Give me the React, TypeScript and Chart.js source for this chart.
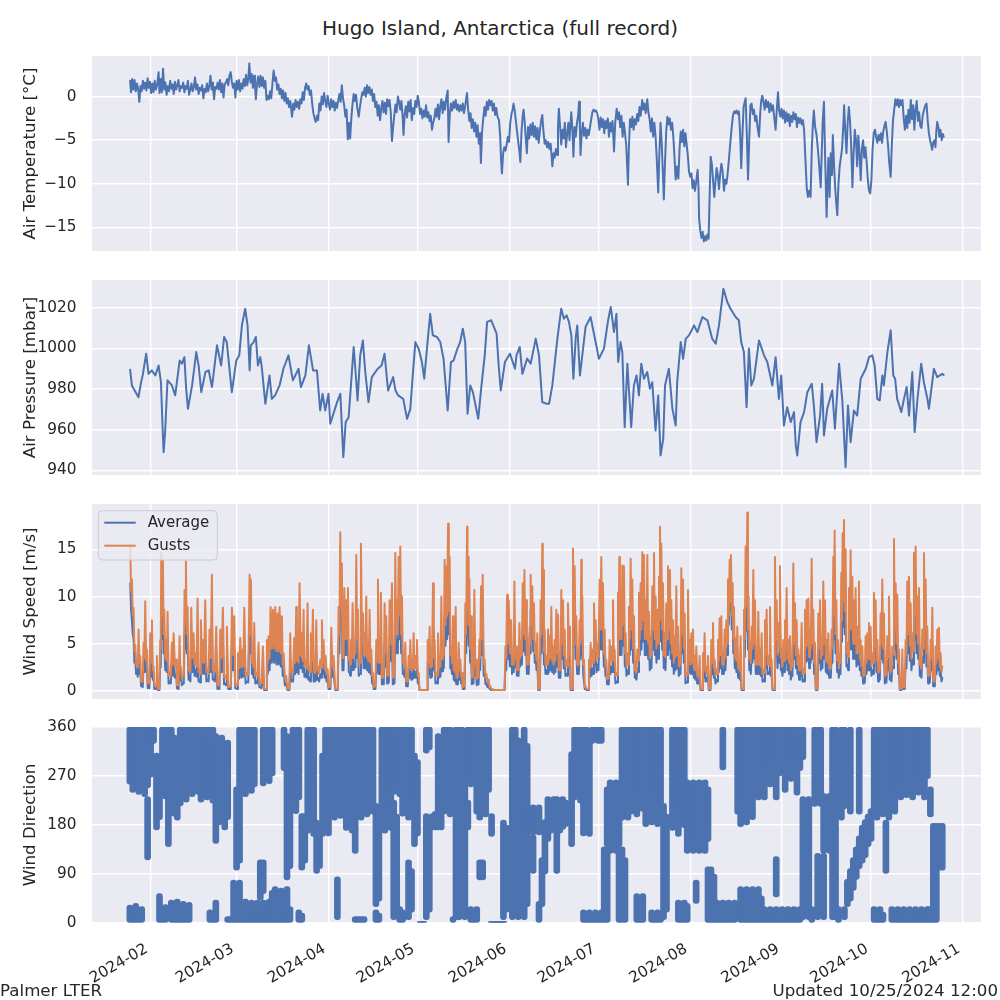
import React, { useEffect, useRef } from "react";
import { Chart, registerables } from "chart.js";

Chart.register(...registerables);

const FONT = "'DejaVu Sans', 'Liberation Sans', sans-serif";
const TEXT = "#262626";
const BG = "#EAEAF2";
const BLUE = "#4C72B0";
const ORANGE = "#DD8452";

// x axis: day of year 2024 (Jan 1 = 0)
const monthTickDays = [31, 60, 91, 121, 152, 182, 213, 244, 274, 305];
const monthTickLabels = ["2024-02", "2024-03", "2024-04", "2024-05", "2024-06", "2024-07", "2024-08", "2024-09", "2024-10", "2024-11"];
const X_MIN = 11.24;
const X_MAX = 311.07;

const tempTicks = [-15, -10, -5, 0];
const pressTicks = [940, 960, 980, 1000, 1020];
const speedTicks = [0, 5, 10, 15];
const dirTicks = [0, 90, 180, 270, 360];

const titleText = "Hugo Island, Antarctica (full record)";
const footerLeft = "Palmer LTER";
const footerRight = "Updated 10/25/2024 12:00";

// [day of year, air temperature °C]
const tempSeries: [number, number][] = [
  [24.1,1.8],[24.4,0.5],[24.8,2.0],[25.2,0.8],[25.6,1.9],[26.0,0.6],[26.4,1.5],[26.8,0.9],[27.2,-0.6],[27.6,1.2],[28.0,0.6],[28.4,1.8],[28.8,0.9],[29.2,1.6],[29.6,0.7],[30.0,2.1],[30.4,1.0],[30.8,1.7],
  [31.2,0.4],[31.6,1.5],[32.0,0.5],[32.4,1.8],[32.8,0.8],[33.2,1.3],[33.7,2.8],[34.0,0.4],[34.4,2.0],[34.8,0.5],[35.2,3.2],[35.6,0.8],[36.0,1.6],[36.4,0.2],[36.8,1.2],[37.2,0.6],[37.6,1.8],[38.0,0.9],
  [38.4,1.4],[38.8,0.3],[39.2,1.7],[39.6,0.8],[40.0,1.3],[40.4,1.9],[40.8,0.6],[41.2,1.2],[41.6,1.0],[42.0,1.6],[42.4,0.5],[42.8,1.2],[43.2,0.9],[43.6,1.8],[44.0,0.2],[44.4,0.8],[44.8,1.5],[45.2,0.6],
  [45.6,1.1],[46.0,2.2],[46.4,0.8],[46.8,1.4],[47.2,0.3],[47.6,1.0],[48.0,0.7],[48.4,1.3],[48.8,-0.2],[49.2,0.9],[49.6,0.5],[50.0,1.5],[50.4,0.6],[50.8,1.2],[51.2,2.4],[51.6,0.8],[52.0,1.6],[52.4,-0.3],
  [52.8,1.1],[53.2,0.9],[53.6,1.6],[54.0,0.8],[54.4,1.9],[54.8,0.5],[55.2,1.5],[55.6,-0.1],[56.0,1.4],[56.4,1.6],[56.8,2.0],[57.2,1.3],[57.6,2.4],[58.0,2.8],[58.4,1.7],[58.8,1.0],[59.2,1.5],[59.6,-0.1],
  [60.0,1.8],[60.4,0.8],[60.8,1.9],[61.2,0.6],[61.6,1.5],[62.0,0.9],[62.4,2.0],[62.8,1.2],[63.2,2.5],[63.6,1.3],[64.0,2.2],[64.3,3.8],[64.7,1.6],[65.1,2.6],[65.5,1.0],[65.9,2.4],[66.2,1.4],[66.5,-0.3],
  [66.9,1.5],[67.3,2.3],[67.7,1.1],[68.1,2.4],[68.5,1.2],[68.9,2.2],[69.3,1.0],[69.7,1.8],[70.1,-0.4],[70.5,0.1],[70.9,-0.3],[71.3,0.6],[71.7,-0.2],[72.1,1.5],[72.5,3.0],[72.9,1.8],[73.3,2.2],[73.7,0.8],
  [74.1,1.4],[74.5,0.3],[74.9,0.9],[75.3,-0.2],[75.7,0.7],[76.1,-0.5],[76.5,0.4],[76.9,-0.8],[77.3,-0.2],[77.7,-1.2],[78.1,-0.5],[78.7,-2.3],[79.1,-0.8],[79.5,-1.5],[79.9,-0.4],[80.3,-1.2],[80.7,-0.6],[81.1,-1.4],
  [81.5,-0.3],[81.9,-0.8],[82.3,0.5],[82.7,-0.4],[83.1,1.0],[83.5,1.5],[83.9,0.8],[84.3,1.2],[84.7,0.2],[85.1,0.7],[85.5,-0.8],[85.9,-1.9],[86.3,-2.5],[86.7,-2.9],[87.1,-2.2],[87.5,-2.7],[87.9,-0.8],[88.3,-1.6],
  [88.7,0.0],[89.1,-0.9],[89.5,0.4],[89.9,-0.5],[90.3,-1.2],[90.7,0.1],[91.1,-0.8],[91.5,-1.5],[91.9,-0.3],[92.3,-1.2],[92.7,-0.5],[93.1,-1.6],[93.5,-0.7],[93.9,-1.3],[94.3,-0.4],[94.7,0.3],[95.1,-0.6],[95.5,1.3],
  [95.9,-0.2],[96.3,-1.0],[96.7,-2.3],[97.1,-1.5],[97.5,-4.9],[97.9,-3.0],[98.3,-4.8],[98.7,-2.5],[99.1,-0.9],[99.5,0.3],[99.9,-0.5],[100.3,0.2],[100.7,-1.3],[101.2,-2.3],[101.6,-1.2],[102.0,-0.3],[102.4,0.5],[102.8,0.2],
  [103.2,1.0],[103.6,0.0],[104.0,1.3],[104.4,0.4],[104.8,1.1],[105.2,0.2],[105.6,0.8],[106.0,-0.5],[106.4,0.3],[106.8,-1.2],[107.2,-0.6],[107.6,-2.2],[108.0,-1.0],[108.4,-2.7],[108.8,-1.4],[109.2,-0.5],[109.6,-1.8],[110.0,-0.7],
  [110.4,-2.0],[110.8,-0.3],[111.2,-1.1],[111.6,-0.4],[112.0,-1.8],[112.4,-5.1],[112.8,-3.5],[113.2,-2.1],[113.6,-0.9],[114.0,-1.8],[114.4,0.0],[114.8,-0.6],[115.2,-1.5],[115.6,-0.5],[116.0,-2.3],[116.3,-4.4],[116.7,-2.0],[117.1,-1.1],
  [117.5,-2.4],[117.9,-0.6],[118.3,-1.7],[118.7,-0.4],[119.1,-2.7],[119.5,-1.3],[119.9,-2.0],[120.3,-0.5],[120.7,-1.2],[121.1,0.1],[121.5,-0.7],[121.9,-2.0],[122.3,-1.4],[122.7,-2.5],[123.1,-1.6],[123.5,-2.3],[123.9,-1.0],[124.3,-2.4],
  [124.7,-1.8],[125.1,-2.8],[125.5,-2.2],[125.9,-3.8],[126.3,-3.0],[126.7,-2.5],[127.1,-1.4],[127.5,-2.3],[127.9,-0.9],[128.3,-2.6],[128.7,-1.1],[129.1,-0.3],[129.5,-1.9],[129.9,-0.6],[130.3,-1.5],[130.7,-0.2],[131.2,0.7],[131.5,-5.2],
  [131.9,-2.0],[132.3,-0.8],[132.7,-1.6],[133.1,-0.6],[133.5,-1.3],[133.9,-0.4],[134.3,-1.5],[134.7,-0.9],[135.1,-1.7],[135.5,-1.0],[135.9,-1.6],[136.3,-0.8],[136.7,-1.9],[137.1,-1.1],[137.7,0.4],[138.1,-1.5],[138.5,-2.8],[138.9,-1.9],
  [139.3,-3.6],[139.7,-2.6],[140.1,-4.0],[140.5,-3.0],[140.9,-4.6],[141.3,-3.3],[141.7,-5.4],[142.1,-4.2],[142.4,-7.6],[142.8,-4.0],[143.2,-2.5],[143.6,-1.2],[144.0,-2.2],[144.4,-0.6],[144.8,-1.5],[145.2,-0.4],[145.6,-1.0],[146.0,-0.5],
  [146.4,-1.6],[146.8,-0.8],[147.2,-2.1],[147.6,-1.3],[148.0,-2.3],[148.5,-2.7],[148.9,-4.5],[149.2,-7.2],[149.5,-8.8],[149.9,-6.5],[150.3,-5.8],[150.7,-6.2],[151.1,-5.5],[151.5,-4.6],[151.9,-5.2],[152.3,-3.0],[152.7,-2.0],[153.1,-1.5],
  [153.4,-0.8],[153.8,-1.6],[154.2,-2.8],[154.6,-4.0],[155.0,-5.2],[155.4,-6.3],[155.7,-7.5],[156.1,-4.0],[156.5,-2.2],[156.8,-1.5],[157.2,-3.0],[157.5,-4.6],[157.9,-6.5],[158.3,-3.5],[158.7,-4.8],[159.1,-3.2],[159.5,-4.4],[159.9,-3.0],
  [160.3,-4.6],[160.7,-3.4],[161.1,-4.9],[161.5,-3.6],[161.9,-5.3],[162.3,-3.9],[162.7,-2.8],[163.1,-2.1],[163.5,-4.0],[163.9,-5.4],[164.3,-5.0],[164.7,-5.8],[165.1,-5.2],[165.5,-6.0],[165.9,-5.4],[166.2,-6.6],[166.5,-8.0],[166.9,-6.5],
  [167.3,-7.0],[167.7,-6.0],[168.1,-6.7],[168.4,-3.5],[168.7,-1.4],[169.1,-3.4],[169.5,-5.5],[169.9,-3.8],[170.3,-4.8],[170.7,-3.0],[171.1,-5.8],[171.5,-4.2],[171.9,-3.0],[172.3,-5.0],[172.6,-3.2],[172.9,-1.8],[173.3,-4.0],[173.6,-6.9],
  [174.0,-3.5],[174.4,-4.6],[174.8,-3.0],[175.2,-2.2],[175.5,-0.6],[175.8,-3.8],[176.0,-6.7],[176.4,-4.2],[176.8,-3.0],[177.2,-4.5],[177.6,-3.6],[178.0,-4.8],[178.4,-3.8],[178.8,-4.4],[179.2,-3.5],[179.6,-2.6],[180.0,-1.8],[180.4,-1.5],
  [180.8,-1.7],[181.2,-1.6],[181.6,-1.9],[182.0,-2.5],[182.4,-3.8],[182.8,-2.4],[183.2,-3.5],[183.6,-2.6],[184.0,-4.2],[184.4,-2.8],[184.8,-3.6],[185.2,-2.5],[185.6,-4.6],[186.0,-3.0],[186.4,-4.0],[186.8,-2.8],[187.3,-6.3],[187.7,-3.0],
  [188.2,-1.4],[188.6,-2.6],[189.0,-1.8],[189.4,-3.5],[189.8,-2.2],[190.2,-4.6],[190.6,-3.0],[191.0,-4.2],[191.4,-5.5],[191.8,-8.5],[192.0,-10.1],[192.3,-6.0],[192.7,-2.6],[193.1,-3.5],[193.5,-2.3],[193.9,-3.8],[194.3,-2.6],[194.7,-3.2],
  [195.1,-2.0],[195.5,-2.8],[195.9,-1.2],[196.3,-2.2],[196.8,-0.4],[197.2,-1.5],[197.6,-0.8],[198.0,-1.9],[198.5,-0.3],[198.9,-1.8],[199.3,-2.6],[199.7,-4.0],[200.1,-2.5],[200.5,-4.6],[200.9,-3.0],[201.3,-4.5],[201.7,-7.0],[202.2,-11.0],
  [202.6,-6.5],[203.0,-3.0],[203.4,-5.5],[203.8,-9.0],[204.1,-11.8],[204.5,-7.5],[204.9,-4.0],[205.3,-2.3],[205.7,-3.2],[206.1,-2.5],[206.5,-3.8],[206.9,-3.0],[207.3,-4.6],[207.7,-7.0],[208.1,-9.5],[208.6,-8.0],[209.0,-9.4],[209.4,-6.0],
  [209.8,-4.0],[210.2,-5.2],[210.6,-3.8],[211.0,-5.7],[211.4,-4.2],[211.8,-5.5],[212.2,-6.8],[212.6,-8.6],[213.0,-9.2],[213.4,-8.8],[213.8,-10.5],[214.2,-9.6],[214.6,-10.8],[215.0,-9.8],[215.5,-8.4],[215.8,-10.5],[216.0,-14.0],[216.4,-15.4],
  [216.8,-16.2],[217.2,-15.5],[217.6,-16.6],[218.0,-16.0],[218.4,-16.5],[218.8,-15.8],[219.2,-16.3],[219.5,-12.0],[219.9,-6.9],[220.3,-7.8],[220.7,-9.6],[221.1,-11.5],[221.5,-9.8],[221.9,-8.2],[222.3,-9.0],[222.7,-10.6],[223.1,-8.9],[223.5,-7.7],
  [223.9,-8.5],[224.4,-10.8],[224.8,-9.5],[225.2,-10.0],[225.5,-9.2],[225.9,-7.8],[226.3,-6.2],[226.6,-5.0],[227.0,-3.5],[227.4,-2.2],[227.8,-1.7],[228.2,-1.9],[228.6,-1.6],[229.0,-2.0],[229.4,-1.7],[229.8,-4.0],[230.2,-8.2],[230.6,-4.5],
  [231.0,-1.2],[231.4,-0.6],[231.7,-0.2],[232.1,-4.5],[232.5,-9.5],[232.9,-5.0],[233.3,-1.0],[233.7,-0.8],[234.1,-2.0],[234.5,-1.5],[234.9,-2.8],[235.3,-2.2],[235.7,-3.5],[236.2,-4.6],[236.6,-2.0],[236.9,-0.6],[237.3,0.1],[237.7,-0.6],
  [238.1,-1.5],[238.5,-0.4],[238.9,-1.2],[239.3,-0.6],[239.7,-1.8],[240.1,-0.8],[240.5,-1.6],[240.9,-1.0],[241.3,-2.3],[241.8,-3.8],[242.2,-1.5],[242.6,0.5],[243.0,-1.6],[243.4,-2.3],[243.8,-1.4],[244.2,-2.5],[244.6,-1.6],[245.0,-3.0],
  [245.4,-1.8],[245.8,-2.8],[246.2,-2.0],[246.6,-3.4],[247.0,-2.2],[247.4,-2.9],[247.8,-1.8],[248.2,-2.6],[248.6,-2.0],[249.0,-3.5],[249.4,-2.4],[249.8,-3.0],[250.2,-2.5],[250.6,-3.2],[251.0,-2.7],[251.4,-3.8],[251.9,-7.5],[252.3,-10.5],
  [252.7,-11.5],[253.1,-10.8],[253.6,-11.5],[254.0,-6.0],[254.4,-3.0],[254.7,-1.6],[255.1,-3.4],[255.6,-4.4],[256.0,-5.8],[256.4,-7.5],[257.0,-10.4],[257.4,-6.0],[257.7,-2.8],[258.1,-0.6],[258.5,-7.0],[259.0,-13.8],[259.3,-10.0],[259.6,-7.0],
  [260.0,-11.5],[260.4,-6.5],[260.8,-9.0],[261.1,-4.4],[261.5,-7.8],[261.9,-10.5],[262.2,-12.0],[262.6,-13.6],[263.0,-10.0],[263.4,-8.0],[263.8,-7.0],[264.2,-6.0],[264.6,-3.5],[264.9,-1.0],[265.3,-4.0],[265.7,-6.5],[266.1,-3.0],[266.5,-1.2],
  [266.9,-2.8],[267.3,-5.8],[267.7,-10.4],[268.1,-6.5],[268.5,-3.8],[268.9,-5.0],[269.3,-8.0],[269.7,-4.5],[270.1,-6.5],[270.5,-9.6],[270.9,-6.0],[271.3,-5.0],[271.7,-7.0],[272.1,-5.8],[272.5,-7.5],[272.9,-9.5],[273.3,-10.8],[273.7,-11.1],
  [274.1,-9.6],[274.5,-6.0],[274.9,-4.2],[275.3,-3.8],[275.7,-4.6],[276.1,-5.3],[276.5,-4.4],[276.9,-5.0],[277.3,-4.2],[277.7,-5.3],[278.1,-4.0],[278.5,-3.4],[278.9,-2.9],[279.3,-4.0],[279.7,-5.5],[280.1,-7.5],[280.6,-9.2],[281.0,-5.5],
  [281.4,-2.7],[281.8,-1.5],[282.2,-0.3],[282.6,-1.0],[283.0,-0.3],[283.4,-1.2],[283.8,-0.4],[284.2,-1.0],[284.6,-0.4],[285.0,-2.5],[285.4,-3.8],[285.8,-2.2],[286.2,-3.6],[286.6,-1.5],[287.0,-3.0],[287.4,-0.4],[287.8,-2.6],[288.2,-1.0],
  [288.6,-3.8],[289.0,-1.5],[289.4,-0.5],[289.8,-2.8],[290.2,-1.8],[290.6,-3.4],[291.0,-3.6],[291.4,-2.2],[291.8,-1.6],[292.3,-1.0],[292.7,-0.8],[293.1,-2.8],[293.5,-4.2],[293.9,-5.0],[294.3,-5.6],[294.6,-6.1],[295.0,-5.2],[295.4,-5.0],
  [295.7,-5.8],[296.0,-4.0],[296.3,-2.9],[296.7,-3.5],[297.0,-4.6],[297.4,-3.8],[297.8,-5.0],[298.2,-4.3],[298.5,-4.6],
];

// [day of year, air pressure mbar]
const pressSeries: [number, number][] = [
  [24.1,989.5],[24.7,981.8],[26.9,976],[27.8,983.4],[28.4,987.2],[29.5,997.4],[30.3,987.5],[31.4,989.2],[32.6,986.7],[33.7,991.6],[34.5,983.4],[35.1,958.9],[35.4,949],[35.9,958.9],[36.7,984.3],[38.2,981.8],
  [39.3,976.9],[40.8,994],[41.6,992.5],[42.4,995.7],[43.0,980.2],[43.6,970.3],[45.0,981.8],[46.4,998.2],[47.2,991.6],[48.1,978.5],[49.5,988.4],[50.6,989.2],[51.7,981],[53.4,1001.5],[54.8,991.6],[55.8,1005.6],
  [56.7,1003],[58.4,978.5],[59.9,994],[60.9,996.6],[61.8,1011.3],[62.9,1019.5],[63.7,1011.3],[64.4,989.2],[64.8,1001.5],[65.7,1003],[66.5,1005.6],[67.2,991.6],[68.0,995.7],[68.5,990.8],[69.7,972.8],[71.1,986.7],
  [71.9,975.2],[73.0,976.9],[74.5,981.8],[75.8,990],[77.5,996.6],[79.0,984.3],[80.9,990],[81.7,981],[83.2,986.7],[84.4,1001.5],[85.8,989.2],[87.1,989.2],[88.2,969.5],[89.0,977.7],[89.9,969.5],[91.0,977.7],
  [91.6,963],[93.9,973.6],[95.0,977.7],[96.0,946.6],[96.8,963.8],[97.8,966.2],[99.5,1000.7],[100.3,985.1],[100.8,974.4],[101.7,996.6],[102.6,1003.9],[103.4,988.4],[104.5,973.6],[105.6,985.9],[107.6,990],[108.9,991.6],
  [109.9,997.4],[111.1,979.3],[112.8,985.9],[113.6,979.3],[114.5,976.9],[116.2,975.2],[117.5,965.4],[118.6,970.3],[119.5,988.4],[120.3,1003.1],[121.4,999.9],[122.5,993.3],[123.3,985.1],[124.4,1003],[125.3,1017],[126.2,1006.4],
  [127.6,1005.6],[128.7,1003.1],[129.8,994.9],[131.2,969.5],[132.3,993.3],[133.2,994.1],[134.3,999.1],[135.4,1003.1],[136.3,1009.7],[137.1,1003.1],[137.9,967.9],[138.8,981.8],[139.7,978.5],[141.5,965.4],[142.6,981.8],[143.7,996.6],
  [144.5,1013],[145.9,1013.8],[147.7,1007.2],[148.4,991.6],[149.1,979.3],[150.5,993.3],[152.2,997.4],[153.9,990],[154.4,996.6],[155.5,1000.7],[156.4,987.5],[158.0,995],[159.2,992.5],[160.9,1004.8],[162.0,996.6],[163.1,973.6],
  [164.5,972.8],[165.4,972.8],[166.5,981.8],[168.2,1004.8],[169.5,1019.5],[170.4,1014.6],[171.3,1016.2],[172.1,1013],[172.9,1006.4],[173.6,985.1],[174.4,1005.6],[174.9,1011.3],[175.8,986.7],[176.6,996.6],[177.7,1010.5],[179.4,1015.4],
  [181.1,1003.1],[182.2,994.9],[183.9,999.9],[185.3,1013.8],[186.2,1020.3],[187.3,1008],[188.1,1017],[188.7,993.3],[189.5,1003.1],[190.1,998.2],[190.9,961.3],[191.8,992.5],[192.3,980.2],[193.1,961.3],[194.0,981.8],[194.9,986.7],
  [195.7,976.9],[196.5,992.5],[197.4,985.1],[198.5,988.4],[199.4,980.2],[200.2,983.4],[201.3,959.7],[202.2,976.9],[203.0,947.4],[203.9,955.6],[204.5,981.8],[205.8,990],[207.0,970.3],[208.1,962.1],[208.6,983.4],[209.8,1003.1],
  [210.6,994.9],[211.5,1004.8],[212.6,1006.4],[214.3,1011.3],[215.4,1008],[217.1,1015.4],[218.8,1013.8],[220.4,1004.8],[221.6,1002.3],[222.7,1011.3],[224.2,1029.3],[225.5,1022.8],[226.6,1019.5],[228.3,1015.4],[229.4,1013.8],[230.2,1003.1],
  [231.1,998.2],[232.0,971.1],[232.8,999.9],[233.6,981.8],[234.5,985.1],[236.2,1003.9],[237.9,996.6],[239.0,993.3],[240.7,981.8],[241.8,995.7],[242.9,975.2],[243.7,986.7],[244.6,962.1],[245.7,971.1],[246.9,963.8],[248.0,968.7],
  [248.6,952.3],[249.1,947.4],[250.2,963.8],[251.4,968.7],[252.5,978.5],[254.0,982.6],[254.7,971.9],[255.6,953.9],[256.8,967],[257.5,982.6],[258.1,957.2],[259.2,970.3],[260.9,979.3],[261.8,960.5],[263.2,992.5],[264.3,974.4],
  [265.4,941.6],[266.2,972],[267.1,953.9],[268.2,969.5],[269.3,967],[270.5,985.1],[272.2,990],[273.3,995.7],[274.4,996.6],[275.2,991.6],[276.1,975.2],[276.9,974.4],[277.8,986.7],[278.3,981.8],[279.5,998.2],[280.6,1008.9],
  [281.5,986.7],[282.1,985.1],[282.8,975.2],[284.2,968.7],[285.1,975.2],[286.0,981],[286.8,967],[287.9,988.4],[288.7,958.9],[289.6,974.4],[290.9,992.5],[291.8,983.4],[293.0,975.2],[293.5,970.3],[295.2,990],[296.3,985.9],
  [298.0,987.5],[298.5,987],
];

// [day of year, average m/s, gust m/s, average in the dip before the next reading, gust in that dip]
const windRows: [number, number, number, number, number][] = [
  [24.14,11.4,15.3,8.5,10.5],[24.70,7.5,11.8,6.0,8.0],[25.27,5.5,8.8,3.0,4.2],[25.83,3.5,4.9,1.8,2.8],[26.39,2.2,3.3,1.5,2.5],[26.95,4.0,6.5,1.8,3.0],[27.51,2.2,3.7,0.5,1.0],[28.08,0.6,1.2,0.4,1.0],[28.64,3.0,5.1,2.0,3.5],[29.20,5.0,9.5,2.0,3.2],
  [29.76,2.4,4.4,0.3,0.8],[30.33,0.4,0.9,0.3,0.8],[30.89,3.4,6.1,1.5,3.0],[31.45,4.2,7.5,1.2,2.2],[32.01,1.3,2.6,0.2,0.6],[32.58,0.3,0.7,0.2,0.6],[33.14,1.8,3.7,0.1,0.2],[33.70,0.1,0.2,0.1,0.2],[34.26,3.0,5.4,2.5,4.5],[34.60,8.5,14.7,5.5,8.0],
  [35.16,8.0,13.9,4.0,6.0],[35.61,5.0,8.6,2.2,3.5],[36.28,3.0,5.4,2.0,3.2],[36.73,4.6,8.4,0.8,1.6],[37.41,1.0,1.9,0.8,1.5],[38.19,2.8,5.1,1.6,2.8],[38.76,3.4,6.1,1.4,2.5],[39.66,1.8,3.3,0.3,0.6],[40.11,0.3,0.7,0.2,0.6],[40.78,3.2,5.8,1.2,2.2],
  [41.23,1.4,2.6,0.6,1.3],[41.90,0.8,1.6,0.8,1.5],[42.46,6.0,10.7,4.5,7.0],[42.91,7.8,13.7,4.0,6.0],[43.47,5.0,8.9,1.2,2.2],[44.15,1.3,2.5,1.0,2.0],[44.71,5.0,8.8,2.0,3.5],[45.50,3.4,6.1,1.6,2.8],[46.17,2.2,4.0,1.5,2.6],[46.85,5.5,9.8,1.0,2.0],
  [47.52,1.2,2.3,0.9,1.8],[47.97,4.2,7.5,1.8,3.0],[48.65,3.0,5.4,1.8,3.0],[49.43,5.4,9.6,1.0,2.0],[50.22,1.2,2.3,1.0,1.8],[50.89,3.6,6.5,2.0,3.5],[51.68,7.0,12.3,1.2,2.2],[52.24,1.3,2.6,1.0,2.0],[53.14,3.8,6.8,0.2,0.6],[53.93,0.3,0.7,0.2,0.6],
  [54.49,3.6,6.5,2.0,3.5],[55.39,5.0,8.8,0.7,1.4],[56.18,0.8,1.6,0.6,1.3],[56.74,3.8,6.8,0.2,0.4],[57.64,0.2,0.5,0.2,0.5],[58.43,5.0,8.8,2.2,3.8],[59.21,4.4,7.9,0.3,0.6],[59.89,0.3,0.7,0.2,0.6],[60.45,2.2,4.0,1.3,2.4],[61.24,3.1,5.6,1.4,2.5],
  [62.02,2.4,4.4,1.5,2.6],[62.59,5.0,8.8,0.8,1.6],[63.49,1.0,1.9,0.9,1.7],[64.39,7.0,12.3,4.0,6.0],[64.84,6.8,11.8,1.8,3.0],[65.51,2.0,3.7,1.4,2.5],[65.96,4.0,7.2,0.8,1.6],[66.64,1.0,1.9,0.8,1.6],[67.42,2.8,5.1,0.4,0.8],[67.99,0.4,0.9,0.3,0.8],
  [68.89,2.6,4.7,0.1,0.2],[69.67,0.1,0.2,0.1,0.2],[70.24,3.0,5.4,1.8,3.0],[70.80,3.2,5.8,2.2,3.5],[71.47,5.0,8.9,3.0,4.5],[72.26,5.0,8.6,3.0,4.5],[73.05,5.2,8.9,2.8,4.2],[73.83,4.8,8.2,2.8,4.2],[74.51,5.0,8.9,2.6,4.0],[75.29,4.4,7.9,1.6,2.8],
  [75.85,2.2,4.0,0.6,1.3],[76.75,0.8,1.6,0.1,0.2],[77.54,0.1,0.2,0.1,0.2],[78.10,3.4,6.1,1.0,2.0],[78.66,1.2,2.3,1.0,1.9],[79.45,3.1,5.6,1.8,3.0],[80.12,5.0,8.9,2.0,3.2],[80.57,2.6,4.7,1.8,3.0],[81.25,6.5,11.4,2.4,3.8],[82.03,3.4,6.1,2.0,3.2],
  [82.60,4.8,8.6,1.5,2.6],[83.16,1.8,3.3,1.4,2.5],[83.95,5.2,9.3,1.2,2.2],[84.51,1.4,2.6,1.0,2.0],[85.07,3.4,6.1,2.0,3.2],[85.75,4.8,8.6,1.0,2.0],[86.20,1.2,2.3,1.0,1.9],[86.87,4.2,7.5,1.2,2.2],[87.43,1.4,2.6,1.0,1.8],[88.22,1.8,3.3,1.4,2.4],
  [88.78,4.2,7.5,1.8,3.0],[89.35,3.0,5.4,1.4,2.4],[90.02,2.0,3.7,1.0,1.8],[90.70,1.2,2.3,0.2,0.4],[91.37,0.2,0.5,0.2,0.5],[91.93,3.7,6.7,1.5,2.6],[92.72,2.0,3.7,0.1,0.2],[93.84,0.1,0.2,0.1,0.2],[94.40,5.0,8.9,4.0,6.0],[94.97,10.0,16.8,6.5,9.0],
  [95.53,8.0,13.5,2.2,3.5],[95.87,2.4,4.0,2.2,3.5],[96.32,6.2,10.9,3.8,5.5],[96.99,5.5,9.6,3.8,5.5],[97.55,6.2,10.9,2.0,3.2],[98.12,2.0,3.7,1.6,2.8],[98.57,3.0,5.4,2.2,3.5],[99.13,5.2,9.3,2.2,3.5],[99.80,2.8,5.1,2.5,4.0],[100.37,8.5,14.4,3.5,5.5],
  [100.93,4.8,8.6,1.6,2.8],[101.49,1.8,3.3,1.8,3.0],[101.94,9.2,15.6,4.0,6.0],[102.62,4.6,8.2,2.4,3.8],[103.07,3.4,6.1,2.4,3.8],[103.74,5.6,10.0,2.2,3.5],[104.30,2.8,5.1,2.0,3.2],[104.87,4.8,8.6,1.8,3.0],[105.43,2.4,4.4,0.8,1.6],[105.99,1.0,1.9,0.2,0.4],
  [106.55,0.2,0.5,0.2,0.5],[107.12,3.0,5.4,2.0,3.5],[107.68,6.8,11.8,1.8,3.0],[108.02,2.0,3.7,1.8,3.0],[108.69,5.8,10.4,0.7,1.4],[109.37,0.8,1.6,0.7,1.4],[109.93,5.2,9.3,2.6,4.0],[110.49,4.4,7.9,0.8,1.6],[111.05,1.0,1.9,0.9,1.7],[111.62,5.4,9.6,3.2,5.0],
  [112.41,6.4,11.4,0.7,1.4],[112.97,0.8,1.6,0.8,1.5],[113.53,8.6,14.6,4.0,6.0],[114.10,5.5,9.6,4.0,6.0],[114.66,8.4,14.2,5.5,8.0],[115.22,9.0,15.3,4.0,6.0],[115.78,5.6,10.0,1.8,3.0],[116.35,2.0,3.7,1.5,2.6],[116.91,2.8,5.1,0.5,1.0],[117.47,0.6,1.2,0.5,1.0],
  [118.03,2.0,3.7,1.4,2.4],[118.60,3.0,5.4,1.2,2.2],[119.16,1.8,3.3,1.3,2.3],[119.72,3.4,6.1,1.4,2.4],[120.28,2.0,3.7,1.4,2.4],[120.85,3.0,5.4,0.8,1.6],[121.41,1.0,1.9,0.1,0.1],[121.97,0.1,0.1,0.1,0.1],[122.53,0.1,0.1,0.1,0.1],[123.10,0.1,0.1,0.1,0.1],
  [123.66,0.1,0.1,0.1,0.1],[124.22,0.1,0.1,0.1,0.1],[124.45,3.0,5.4,1.8,3.0],[125.12,3.8,6.8,1.4,2.5],[125.57,1.8,3.3,1.5,2.6],[126.25,6.4,11.4,2.2,3.5],[126.81,3.0,5.4,0.8,1.6],[127.37,1.0,1.9,0.8,1.6],[127.93,3.4,6.1,1.4,2.4],[128.50,1.8,3.3,1.5,2.6],
  [129.06,5.6,10.0,2.1,3.4],[129.62,2.8,5.1,2.4,3.8],[130.18,8.0,13.9,4.8,7.0],[130.75,7.6,13.2,5.5,8.0],[131.31,10.4,17.7,6.0,8.5],[131.87,8.2,14.2,2.4,3.8],[132.32,2.6,4.7,1.8,3.0],[133.00,4.4,7.9,1.2,2.2],[133.45,1.4,2.6,1.0,2.0],[133.90,5.0,8.9,0.7,1.4],
  [134.35,0.8,1.6,0.7,1.4],[134.91,2.8,5.1,1.2,2.2],[135.47,1.8,3.3,0.8,1.5],[136.04,1.0,1.9,0.2,0.4],[136.60,0.2,0.5,0.2,0.5],[137.16,5.2,9.3,4.0,6.0],[137.72,10.2,17.4,6.5,9.0],[138.06,8.4,14.2,4.8,7.0],[138.51,7.0,11.9,3.0,4.5],[139.07,4.4,7.9,0.7,1.4],
  [139.64,0.8,1.6,0.8,1.5],[140.20,6.0,10.7,1.6,2.8],[140.76,1.8,3.3,0.6,1.3],[141.32,0.8,1.6,0.7,1.4],[141.89,3.0,5.4,2.2,3.5],[142.45,6.4,11.1,3.8,5.5],[143.01,7.2,12.3,1.6,2.8],[143.69,1.8,3.3,0.7,1.4],[144.25,0.9,1.8,0.4,0.9],[145.04,0.6,1.2,0.2,0.4],
  [145.60,0.2,0.5,0.1,0.2],[146.16,0.1,0.2,0.1,0.1],[146.73,0.1,0.1,0.1,0.1],[147.29,0.1,0.1,0.1,0.1],[147.85,0.1,0.1,0.1,0.1],[148.41,0.1,0.1,0.1,0.1],[148.98,0.1,0.1,0.1,0.1],[149.54,0.1,0.1,0.1,0.1],[150.10,0.1,0.1,0.1,0.1],[150.66,2.7,4.7,2.2,3.5],
  [151.23,6.0,10.2,3.4,5.0],[151.79,5.6,9.6,2.6,4.0],[152.58,4.4,7.5,1.8,2.8],[153.25,2.5,3.3,2.0,2.8],[153.70,7.0,11.6,2.5,3.5],[154.26,3.8,4.7,1.6,2.2],[154.83,2.0,2.6,1.6,2.2],[155.39,4.8,7.2,2.6,3.5],[155.95,4.2,5.1,2.8,3.8],[156.51,6.8,11.4,4.2,6.0],
  [157.08,7.6,12.8,3.8,5.5],[157.64,5.6,9.6,1.8,2.8],[158.20,2.0,3.3,1.8,2.8],[158.88,6.1,6.8,4.0,5.0],[159.18,8.6,12.3,5.5,7.0],[159.74,7.0,11.1,4.2,5.5],[160.30,5.8,9.3,3.0,4.0],[160.87,3.8,5.1,2.2,3.2],[161.43,3.5,6.1,0.1,0.2],[161.99,0.1,0.2,0.1,0.2],
  [162.55,5.6,9.6,4.0,6.0],[163.11,9.0,15.6,5.2,7.5],[163.45,7.4,12.8,2.8,4.2],[163.90,3.8,6.5,1.8,2.8],[164.46,2.2,3.7,1.8,2.8],[165.02,3.8,6.5,2.0,3.2],[165.59,3.4,5.8,2.2,3.5],[166.15,5.0,8.9,2.0,3.2],[166.71,2.6,4.7,1.8,2.8],[167.27,3.0,5.4,2.0,3.2],
  [167.84,5.0,8.6,2.6,4.0],[168.40,4.6,8.1,1.4,2.2],[168.96,1.4,2.6,1.4,2.2],[169.52,6.0,10.7,3.4,5.0],[170.08,5.4,9.6,2.4,3.8],[170.65,3.6,6.5,1.6,2.6],[171.21,1.8,3.3,1.6,2.6],[171.77,5.2,9.3,2.4,3.8],[172.45,3.8,6.8,0.1,0.2],[172.90,0.1,0.2,0.1,0.2],
  [173.46,8.8,15.1,5.2,7.5],[174.02,7.6,13.2,3.4,5.0],[174.58,4.4,7.9,1.8,2.8],[175.14,2.0,3.7,1.8,2.8],[175.71,4.2,7.5,3.4,5.0],[176.27,8.0,13.9,3.8,5.5],[176.61,5.6,10.0,1.8,2.8],[177.17,1.8,3.3,0.2,0.4],[177.73,0.2,0.5,0.1,0.2],[178.29,0.1,0.2,0.1,0.2],
  [178.85,1.8,3.3,1.4,2.4],[179.42,2.8,5.1,1.6,2.6],[179.98,2.4,4.4,1.8,3.0],[180.54,5.2,9.3,2.8,4.2],[181.10,4.2,7.5,2.0,3.2],[181.66,2.8,5.1,2.2,3.6],[182.45,6.8,11.8,4.4,6.5],[183.01,8.2,14.2,4.4,6.5],[183.58,6.4,11.4,2.6,4.0],[184.14,3.6,6.5,1.6,2.6],
  [184.70,1.8,3.3,0.7,1.3],[185.26,0.8,1.6,0.7,1.4],[185.82,3.0,5.4,1.8,2.8],[186.39,2.6,4.7,2.0,3.2],[186.95,5.4,9.6,2.0,3.2],[187.51,2.4,4.4,0.8,1.6],[188.07,1.0,1.9,0.9,1.7],[188.64,6.0,10.4,4.0,6.0],[189.08,8.2,14.2,3.8,5.5],[189.53,5.4,9.6,3.8,5.5],
  [190.10,7.8,13.3,4.8,7.0],[190.66,7.6,13.2,2.6,4.0],[191.22,3.4,6.1,1.6,2.6],[191.78,2.2,4.0,1.8,2.8],[192.34,5.0,8.9,3.8,5.5],[192.91,8.0,14.0,4.4,6.5],[193.47,6.8,11.8,3.0,4.5],[194.03,4.4,7.9,1.4,2.2],[194.59,1.4,2.6,1.2,2.0],[195.15,2.4,4.4,2.0,3.2],
  [195.72,6.0,10.4,3.8,5.5],[196.28,6.6,11.4,4.4,6.5],[196.84,8.6,14.7,5.2,7.5],[197.40,8.4,14.4,3.8,5.5],[197.96,5.4,9.6,3.8,5.5],[198.53,8.4,14.4,3.4,5.0],[199.09,4.8,8.4,2.2,3.5],[199.65,3.2,5.8,2.4,3.8],[200.21,6.4,11.1,4.4,6.5],[200.78,8.4,14.6,3.8,5.5],
  [201.34,5.8,10.0,3.0,4.5],[201.90,5.0,8.6,3.4,5.0],[202.46,7.0,12.1,5.2,7.5],[202.80,10.2,17.4,6.4,9.0],[203.25,9.2,15.6,4.4,6.5],[203.81,6.6,11.4,2.4,3.8],[204.37,3.4,6.1,2.2,3.6],[204.93,5.2,9.3,3.8,5.5],[205.50,7.6,13.2,4.4,6.5],[206.17,7.4,12.8,3.4,5.0],
  [206.62,5.4,9.6,2.6,4.0],[207.18,4.2,7.5,1.8,3.0],[207.75,3.2,5.8,2.2,3.6],[208.31,6.4,11.1,2.4,3.8],[208.87,3.8,6.8,1.6,2.6],[209.43,1.8,3.3,1.8,2.8],[210.00,7.6,13.0,4.0,6.0],[210.56,6.8,11.8,3.0,4.5],[211.12,4.6,8.2,0.8,1.6],[211.68,1.0,1.9,0.9,1.7],
  [212.24,6.0,10.7,2.0,3.2],[212.81,3.0,5.4,1.8,2.8],[213.37,3.4,6.1,1.8,3.0],[213.93,3.6,6.5,1.4,2.4],[214.49,2.0,3.7,1.2,2.2],[215.05,2.6,4.7,0.8,1.6],[215.62,1.0,1.9,0.8,1.5],[216.18,2.0,3.7,0.1,0.2],[216.74,0.1,0.2,0.1,0.2],[217.30,2.2,4.0,1.4,2.4],
  [217.86,3.4,6.1,1.0,2.0],[218.43,1.4,2.6,1.0,1.8],[218.99,2.0,3.7,0.1,0.2],[219.55,0.1,0.2,0.1,0.2],[220.11,3.0,5.4,1.8,3.0],[220.67,4.0,7.2,1.4,2.4],[221.24,1.8,3.3,0.8,1.6],[221.80,1.2,2.3,1.0,1.8],[222.36,3.0,5.4,2.0,3.2],[222.92,4.2,7.7,2.4,3.8],
  [223.48,4.4,7.9,1.8,2.8],[224.05,2.2,4.0,1.8,2.8],[224.61,3.6,6.5,2.2,3.5],[225.17,4.5,7.5,3.8,5.0],[225.73,8.0,11.8,7.0,8.0],[226.30,11.4,13.9,8.5,9.5],[226.74,10.0,14.4,6.5,8.0],[227.31,8.0,11.4,4.0,5.5],[227.76,5.4,8.9,2.4,3.5],[228.32,3.2,5.6,2.0,3.2],
  [228.88,3.8,6.8,1.4,2.4],[229.44,1.6,3.0,1.2,2.2],[230.00,3.2,5.8,0.1,0.2],[230.57,0.1,0.2,0.1,0.2],[231.13,4.8,8.6,3.6,5.5],[231.69,9.0,15.3,6.4,9.0],[232.25,11.0,18.9,4.4,6.5],[232.70,5.8,10.0,2.2,3.4],[233.15,2.8,5.1,1.8,3.0],[233.71,3.8,6.8,3.0,4.5],
  [234.28,7.4,12.8,3.4,5.0],[234.84,5.4,9.6,1.8,2.8],[235.40,2.0,3.7,1.8,2.8],[235.96,4.8,8.4,1.8,2.8],[236.53,2.4,4.4,1.6,2.6],[237.09,3.4,6.1,1.0,1.8],[237.65,1.2,2.3,1.0,1.9],[238.21,4.2,7.5,2.4,3.8],[238.77,4.8,8.6,1.8,2.8],[239.34,2.0,3.7,1.8,2.8],
  [239.90,5.0,8.9,1.6,2.6],[240.46,1.8,3.3,0.1,0.2],[241.02,0.1,0.2,0.1,0.2],[241.58,8.2,14.2,3.8,5.5],[242.15,5.4,9.6,2.4,3.8],[242.71,4.0,7.2,3.0,4.5],[243.27,7.6,13.2,2.2,3.5],[243.83,2.4,4.4,1.6,2.6],[244.39,3.0,5.4,2.0,3.2],[244.96,4.2,7.5,3.0,4.5],
  [245.52,6.2,10.9,2.2,3.4],[246.08,3.0,5.4,1.8,3.0],[246.64,3.2,5.8,1.2,2.2],[247.20,1.6,3.0,1.6,2.6],[247.77,7.8,13.5,3.4,5.0],[248.33,5.2,9.3,2.4,3.8],[248.89,4.2,7.5,1.8,2.8],[249.45,2.4,4.4,1.2,2.2],[250.02,2.0,3.7,1.6,2.6],[250.58,4.0,7.2,1.0,1.8],
  [251.14,1.2,2.3,1.0,1.9],[251.70,4.8,8.6,3.0,4.5],[252.26,5.4,9.6,3.2,4.8],[252.83,5.5,9.8,2.4,3.6],[253.39,3.6,6.5,3.0,4.5],[253.95,8.0,14.0,3.4,5.0],[254.51,4.8,8.6,1.8,3.0],[255.07,2.8,5.1,0.1,0.2],[255.64,0.1,0.2,0.1,0.2],[256.20,4.6,8.2,3.0,4.5],
  [256.76,5.4,9.6,2.2,3.4],[257.32,3.2,5.8,2.4,3.8],[257.88,6.6,11.6,3.4,5.0],[258.45,5.4,9.6,2.0,3.2],[259.01,3.0,5.4,1.8,3.0],[259.57,3.4,6.1,1.4,2.4],[260.13,1.8,3.3,1.4,2.4],[260.69,3.6,6.5,3.0,4.5],[261.26,8.2,14.2,5.5,8.0],[261.71,10.0,17.0,4.0,6.0],
  [262.27,5.4,9.6,2.0,3.2],[262.83,3.0,5.4,1.4,2.4],[263.39,2.2,4.0,1.8,3.0],[263.96,7.2,12.5,5.2,7.5],[264.40,9.8,16.7,6.8,9.5],[264.85,10.6,18.1,6.0,8.5],[265.42,8.8,15.0,2.6,4.0],[265.98,2.8,5.1,2.2,3.6],[266.54,6.2,10.9,4.4,6.5],[267.10,8.6,14.9,4.4,6.5],
  [267.67,7.0,12.1,3.4,5.0],[268.23,5.4,9.6,3.4,5.0],[268.79,6.2,10.9,2.6,4.0],[269.35,3.8,6.8,2.8,4.2],[269.91,6.6,11.6,2.2,3.4],[270.48,3.0,5.4,1.6,2.6],[271.04,2.6,4.7,0.8,1.6],[271.60,1.0,1.9,0.9,1.7],[272.16,3.2,5.8,1.8,3.0],[272.72,3.4,6.1,2.2,3.4],
  [273.29,4.0,7.2,2.2,3.4],[273.85,3.8,6.8,1.6,2.6],[274.41,2.2,4.0,1.8,3.0],[274.97,6.0,10.4,3.2,4.8],[275.53,5.4,9.6,2.0,3.2],[276.10,3.0,5.4,1.0,2.0],[276.66,1.4,2.6,1.2,2.2],[277.22,4.6,8.2,3.4,5.0],[277.78,6.8,11.8,3.0,4.5],[278.35,4.6,8.2,0.8,1.6],
  [278.91,1.0,1.9,0.9,1.7],[279.47,3.2,5.8,2.2,3.6],[280.03,5.6,10.0,1.2,2.2],[280.59,1.4,2.6,1.0,2.0],[281.16,2.6,4.7,2.4,3.8],[281.72,9.4,16.1,4.4,6.5],[282.28,6.6,11.4,3.4,5.0],[282.84,5.8,10.2,1.8,3.0],[283.40,2.4,4.4,0.1,0.2],[283.97,0.1,0.2,0.1,0.2],
  [284.53,2.4,4.4,0.2,0.4],[285.09,0.2,0.5,0.2,0.5],[285.65,3.0,5.4,2.4,3.8],[286.21,6.6,11.6,4.0,6.0],[286.78,7.0,12.1,3.2,4.8],[287.34,5.2,9.3,2.2,3.4],[287.90,3.4,6.1,2.8,4.2],[288.46,8.4,14.6,5.5,8.0],[289.02,8.8,15.3,4.0,6.0],[289.59,5.6,10.0,3.4,5.0],
  [290.15,6.2,10.9,1.6,2.8],[290.71,1.8,3.3,1.4,2.4],[291.27,3.6,6.5,3.0,4.5],[291.84,8.4,14.6,4.4,6.5],[292.40,6.8,11.8,2.6,4.0],[292.96,3.8,6.8,0.8,1.6],[293.52,1.0,1.9,0.9,1.7],[294.08,3.0,5.4,2.2,3.4],[294.65,5.0,8.8,0.5,1.0],[295.21,0.6,1.2,0.5,1.0],
  [295.77,2.6,4.7,1.8,3.0],[296.33,3.6,6.5,2.2,3.4],[296.89,3.8,6.7,1.6,2.6],[297.45,2.2,4.0,1.0,2.0],[298.02,1.4,2.6,1.4,2.6],
];

// [day of year, lowest direction °, highest direction °] spans covered by the dense direction dots
const dirSpans: [number, number, number][] = [
  [24,255,360],[24,0,33],[25,240,360],[25,0,28],[26,262,360],[26,0,36],[27,236,360],[27,0,22],[28,250,360],[28,0,30],[29,232,360],[30,248,360],[30,116,232],[31,268,360],[32,330,360],
  [33,171,312],[34,190,300],[34,0,54],[35,244,360],[35,0,26],[36,228,360],[36,0,34],[37,252,360],[37,140,238],[38,236,360],[38,0,42],[39,196,345],[39,0,36],[40,189,330],[40,0,44],
  [41,215,360],[41,0,30],[42,238,360],[42,0,40],[43,222,360],[43,0,28],[44,250,360],[44,0,38],[45,232,360],[46,260,360],[47,236,360],[48,222,360],[49,248,360],[50,226,360],
  [51,240,360],[51,0,24],[52,220,360],[52,0,18],[53,146,348],[53,0,42],[54,180,330],[55,200,345],[56,171,320],[57,190,336],[57,0,12],[58,0,12],[59,0,79],[60,97,250],[60,0,70],
  [61,110,360],[61,0,79],[62,246,360],[62,0,36],[63,232,360],[63,0,44],[64,258,360],[64,0,30],[65,238,360],[65,0,42],[66,250,360],[66,0,34],[67,0,42],[68,42,116],[68,0,36],
  [69,252,360],[69,54,116],[69,0,42],[70,262,360],[70,0,30],[71,256,360],[71,0,44],[72,270,360],[72,0,60],[73,0,67],[74,0,52],[75,0,64],[76,280,360],[76,0,48],[77,79,348],[77,0,67],
  [78,100,340],[78,0,30],[79,210,360],[80,201,360],[81,226,360],[81,0,24],[82,97,201],[82,0,18],[83,110,201],[84,165,360],[85,190,360],[86,159,360],[87,91,189],[88,100,180],[89,159,312],
  [90,175,360],[91,160,360],[92,205,360],[93,189,360],[94,220,360],[94,6,85],[95,192,360],[96,230,360],[97,170,360],[98,200,360],[99,165,360],[100,128,360],[100,0,12],
  [101,210,360],[101,0,12],[102,189,360],[102,0,12],[103,230,360],[103,0,12],[104,195,360],[105,240,360],[106,200,360],[107,30,220],[107,0,24],[108,40,210],[108,0,18],
  [109,190,360],[110,165,360],[111,210,360],[112,170,360],[113,236,360],[113,6,226],[114,250,360],[114,20,200],[115,232,360],[115,0,30],[116,196,360],[116,0,24],[117,230,360],
  [118,189,360],[118,6,116],[119,215,360],[119,20,100],[120,140,312],[121,160,300],[122,0,3],[123,0,3],[124,312,360],[124,6,201],[125,318,360],[125,20,190],[126,171,201],[127,171,205],
  [128,171,348],[129,171,201],[130,200,360],[131,230,360],[132,195,360],[133,0,12],[134,6,360],[135,6,360],[136,20,360],[137,6,340],[138,255,360],[138,171,226],[139,250,360],[139,0,30],
  [140,270,360],[140,0,24],[141,200,360],[141,0,30],[142,189,360],[142,79,116],[143,230,360],[143,79,116],[144,195,360],[145,240,360],[146,159,201],[146,0,3],[147,0,3],[148,0,3],[149,0,3],
  [150,0,3],[150,6,189],[151,20,180],[153,6,360],[154,20,360],[155,6,340],[156,165,214],[157,6,360],[158,30,330],[159,165,214],[160,162,217],[160,91,162],[161,168,212],[162,162,217],[162,0,40],
  [163,30,120],[164,90,190],[165,150,232],[166,165,228],[167,170,232],[168,91,232],[169,165,225],[170,172,232],[171,177,226],[172,180,220],[173,140,315],[174,226,360],[175,240,360],[176,220,360],
  [177,160,360],[177,0,24],[178,190,360],[178,0,18],[179,159,340],[179,0,24],[180,330,360],[180,0,20],[181,336,360],[181,0,24],[182,330,360],[182,0,16],[183,330,360],[183,0,24],
  [184,0,140],[185,0,140],[185,140,250],[186,128,263],[187,135,255],[188,128,263],[189,140,250],[189,0,140],[190,189,360],[190,0,140],[191,210,360],[191,0,120],[192,189,360],
  [193,200,360],[194,230,360],[195,195,360],[195,0,54],[196,240,360],[196,0,40],[197,205,360],[197,0,54],[198,177,360],[199,220,360],[200,180,360],[200,0,24],[201,230,360],[201,0,18],
  [202,177,360],[202,0,24],[203,210,360],[203,0,20],[204,6,220],[205,20,200],[207,170,360],[208,200,360],[209,159,360],[209,0,42],[210,210,360],[210,0,34],[211,175,360],[211,0,42],
  [212,128,263],[212,0,36],[213,140,255],[214,128,263],[215,150,250],[215,36,79],[216,128,263],[217,145,258],[218,128,263],[219,150,250],[219,0,103],[220,0,103],[221,0,90],
  [222,0,42],[223,0,30],[224,0,42],[224,281,360],[225,0,36],[226,0,42],[227,0,28],[228,0,42],[229,200,360],[230,177,360],[230,0,67],[231,220,360],[231,0,50],[232,180,360],[232,0,67],
  [233,240,360],[233,0,55],[234,190,360],[234,0,67],[235,230,360],[235,0,48],[236,226,360],[236,0,67],[237,260,360],[237,0,50],[238,226,360],[238,0,30],[239,280,360],[239,0,22],
  [240,250,360],[240,0,30],[241,290,360],[241,0,24],[242,226,360],[242,48,122],[242,0,30],[243,270,360],[243,0,20],[244,300,360],[244,0,30],[245,240,360],[245,0,26],[246,285,360],[246,0,30],
  [247,260,360],[247,0,18],[248,295,360],[248,0,30],[249,235,360],[249,0,24],[250,280,360],[250,0,30],[251,6,232],[251,300,360],[252,20,220],[253,6,232],[254,0,30],[255,214,360],
  [256,240,360],[256,6,128],[257,214,360],[257,20,120],[258,6,128],[258,128,238],[259,140,230],[260,128,238],[261,6,360],[262,6,360],[263,0,30],[264,189,360],[265,210,360],[265,6,30],
  [266,30,80],[267,40,100],[267,200,360],[268,60,120],[269,80,140],[270,100,160],[270,200,360],[271,110,180],[272,120,190],[273,140,200],[274,150,210],[275,200,360],[275,0,30],
  [276,189,360],[276,0,24],[277,230,360],[277,0,30],[278,195,360],[278,0,20],[279,240,360],[279,91,189],[280,189,360],[281,220,360],[281,0,30],[282,200,360],[282,0,24],
  [283,240,360],[283,0,30],[284,226,360],[284,0,22],[285,260,360],[285,0,30],[286,230,360],[286,0,26],[287,250,360],[287,0,30],[288,226,360],[288,0,20],[289,270,360],[289,0,30],
  [290,235,360],[290,0,24],[291,255,360],[291,0,30],[292,226,360],[292,0,22],[293,265,360],[293,0,30],[294,195,250],[294,0,30],[295,0,183],[296,0,183],[297,97,183],[298,97,183],
];

// ---------------- layout / style helpers ----------------
const PAD = 12;
const Y_AXIS_W = 92;
const RIGHT_PAD = 19;
const X_AXIS_H = 77;

const minusFmt = (v: number) => (v < 0 ? "\u2212" + Math.abs(v) : String(v));

function xScale(showLabels: boolean): any {
  return {
    type: "linear",
    min: X_MIN,
    max: X_MAX,
    offset: false,
    afterBuildTicks: (s: any) => {
      s.ticks = monthTickDays.map((v) => ({ value: v }));
    },
    afterFit: (s: any) => {
      s.height = showLabels ? X_AXIS_H : 0;
    },
    grid: { color: "#ffffff", lineWidth: 1.4, drawTicks: true, tickLength: 17, tickColor: "rgba(0,0,0,0)", offset: false },
    border: { display: false },
    ticks: {
      display: showLabels,
      autoSkip: false,
      minRotation: 30,
      maxRotation: 30,
      padding: 0,
      labelOffset: -4,
      color: TEXT,
      font: { family: FONT, size: 15.3 },
      callback: (_v: any, i: number) => monthTickLabels[i],
    },
  };
}

function yScale(min: number, max: number, ticks: number[], title: string): any {
  return {
    type: "linear",
    min,
    max,
    afterBuildTicks: (s: any) => {
      s.ticks = ticks.map((v) => ({ value: v }));
    },
    afterFit: (s: any) => {
      s.width = Y_AXIS_W;
    },
    grid: { color: "#ffffff", lineWidth: 1.4, drawTicks: true, tickLength: 15.5, tickColor: "rgba(0,0,0,0)" },
    border: { display: false },
    ticks: {
      padding: 0,
      color: TEXT,
      font: { family: FONT, size: 15.3 },
      callback: (v: any) => minusFmt(Number(v)),
    },
    title: {
      display: true,
      text: title,
      color: TEXT,
      font: { family: FONT, size: 16.67, lineHeight: 1.2 },
      padding: { top: 21, bottom: 0 },
    },
  };
}

const bgPlugin = {
  id: "axesBackground",
  beforeDraw(chart: any) {
    const { ctx, chartArea: a } = chart;
    ctx.save();
    ctx.fillStyle = BG;
    ctx.fillRect(a.left, a.top, a.right - a.left, a.bottom - a.top);
    ctx.restore();
  },
};

const insideLegend = {
  id: "insideLegend",
  afterDatasetsDraw(chart: any) {
    const { ctx, chartArea: a } = chart;
    const x = a.left + 6.3;
    const y = a.top + 6.7;
    const w = 119;
    const h = 49.3;
    const r = 4;
    ctx.save();
    ctx.beginPath();
    ctx.moveTo(x + r, y);
    ctx.lineTo(x + w - r, y);
    ctx.arcTo(x + w, y, x + w, y + r, r);
    ctx.lineTo(x + w, y + h - r);
    ctx.arcTo(x + w, y + h, x + w - r, y + h, r);
    ctx.lineTo(x + r, y + h);
    ctx.arcTo(x, y + h, x, y + h - r, r);
    ctx.lineTo(x, y + r);
    ctx.arcTo(x, y, x + r, y, r);
    ctx.closePath();
    ctx.fillStyle = "rgba(234,234,242,0.8)";
    ctx.fill();
    ctx.strokeStyle = "#cccccc";
    ctx.lineWidth = 1;
    ctx.stroke();
    const items = [...chart.data.datasets];
    items.forEach((ds: any, i: number) => {
      const yy = a.top + 18.7 + i * 23;
      ctx.strokeStyle = ds.borderColor;
      ctx.lineWidth = 2;
      ctx.beginPath();
      ctx.moveTo(a.left + 12.3, yy);
      ctx.lineTo(a.left + 43.7, yy);
      ctx.stroke();
      ctx.fillStyle = TEXT;
      ctx.font = `15px ${FONT}`;
      ctx.textBaseline = "alphabetic";
      ctx.textAlign = "left";
      ctx.fillText(ds.label, a.left + 55.7, yy + 4.5);
    });
    ctx.restore();
  },
};

function baseOptions(showX: boolean, y: any): any {
  return {
    responsive: false,
    animation: false,
    events: [],
    layout: { padding: { top: PAD, bottom: showX ? 0 : PAD, left: 0, right: RIGHT_PAD } },
    plugins: { legend: { display: false }, tooltip: { enabled: false }, title: { display: false } },
    scales: { x: xScale(showX), y },
  };
}

const lineStyle = { borderWidth: 2, pointRadius: 0, tension: 0, borderJoinStyle: "round", borderCapStyle: "round", fill: false };

// each wind reading is followed by the dip recorded before the next reading
function windPoints(valueCol: number, dipCol: number) {
  const pts: { x: number; y: number }[] = [];
  windRows.forEach((row, i) => {
    pts.push({ x: row[0], y: row[valueCol] });
    const next = windRows[i + 1];
    if (next) pts.push({ x: (row[0] + next[0]) / 2, y: row[dipCol] });
  });
  return pts;
}

export default function App() {
  const c1 = useRef<HTMLCanvasElement>(null);
  const c2 = useRef<HTMLCanvasElement>(null);
  const c3 = useRef<HTMLCanvasElement>(null);
  const c4 = useRef<HTMLCanvasElement>(null);

  useEffect(() => {
    Chart.defaults.font.family = FONT;
    Chart.defaults.color = TEXT;
    const charts: Chart[] = [];

    charts.push(
      new Chart(c1.current as HTMLCanvasElement, {
        type: "line",
        data: {
          datasets: [
            { label: "Air Temperature", data: tempSeries.map(([x, y]) => ({ x, y })), borderColor: BLUE, ...lineStyle } as any,
          ],
        },
        options: baseOptions(false, yScale(-17.7, 4.65, tempTicks, "Air Temperature [\u00B0C]")),
        plugins: [bgPlugin],
      })
    );

    charts.push(
      new Chart(c2.current as HTMLCanvasElement, {
        type: "line",
        data: {
          datasets: [
            { label: "Air Pressure", data: pressSeries.map(([x, y]) => ({ x, y })), borderColor: BLUE, ...lineStyle } as any,
          ],
        },
        options: baseOptions(false, yScale(937.8, 1033.6, pressTicks, "Air Pressure [mbar]")),
        plugins: [bgPlugin],
      })
    );

    charts.push(
      new Chart(c3.current as HTMLCanvasElement, {
        type: "line",
        data: {
          datasets: [
            { label: "Average", order: 1, data: windPoints(1, 3), borderColor: BLUE, ...lineStyle } as any,
            { label: "Gusts", order: 0, data: windPoints(2, 4), borderColor: ORANGE, ...lineStyle } as any,
          ],
        },
        options: baseOptions(false, yScale(-0.85, 19.8, speedTicks, "Wind Speed [m/s]")),
        plugins: [bgPlugin, insideLegend],
      })
    );

    charts.push(
      new Chart(c4.current as HTMLCanvasElement, {
        type: "bar",
        data: {
          datasets: [
            {
              label: "Wind Direction",
              data: dirSpans.map(([x, lo, hi]) => ({ x, y: [lo, hi] })),
              backgroundColor: BLUE,
              borderWidth: 0,
              barThickness: 6,
              borderRadius: 3,
              borderSkipped: false,
              grouped: false,
            } as any,
          ],
        },
        options: baseOptions(true, yScale(0, 360, dirTicks, "Wind Direction")),
        plugins: [bgPlugin],
      })
    );

    return () => charts.forEach((c) => c.destroy());
  }, []);

  const abs = (top: number): React.CSSProperties => ({ position: "absolute", left: 0, top });

  return (
    <div style={{ position: "absolute", left: 0, top: 0, width: 1000, height: 1000, background: "#ffffff", fontFamily: FONT, color: TEXT, overflow: "hidden" }}>
      <div style={{ position: "absolute", left: 0, top: 15.6, width: 1000, textAlign: "center", fontSize: 20, lineHeight: "24px", whiteSpace: "nowrap" }}>{titleText}</div>
      <div style={abs(44)}>
        <canvas ref={c1} width={1000} height={219} />
      </div>
      <div style={abs(268)}>
        <canvas ref={c2} width={1000} height={219} />
      </div>
      <div style={abs(492)}>
        <canvas ref={c3} width={1000} height={219} />
      </div>
      <div style={abs(715)}>
        <canvas ref={c4} width={1000} height={285} />
      </div>
      <div style={{ position: "absolute", left: 0, top: 980.5, fontSize: 16.67, lineHeight: "20px", whiteSpace: "nowrap" }}>{footerLeft}</div>
      <div style={{ position: "absolute", right: 2, top: 980.5, fontSize: 16.67, lineHeight: "20px", whiteSpace: "nowrap" }}>{footerRight}</div>
    </div>
  );
}
